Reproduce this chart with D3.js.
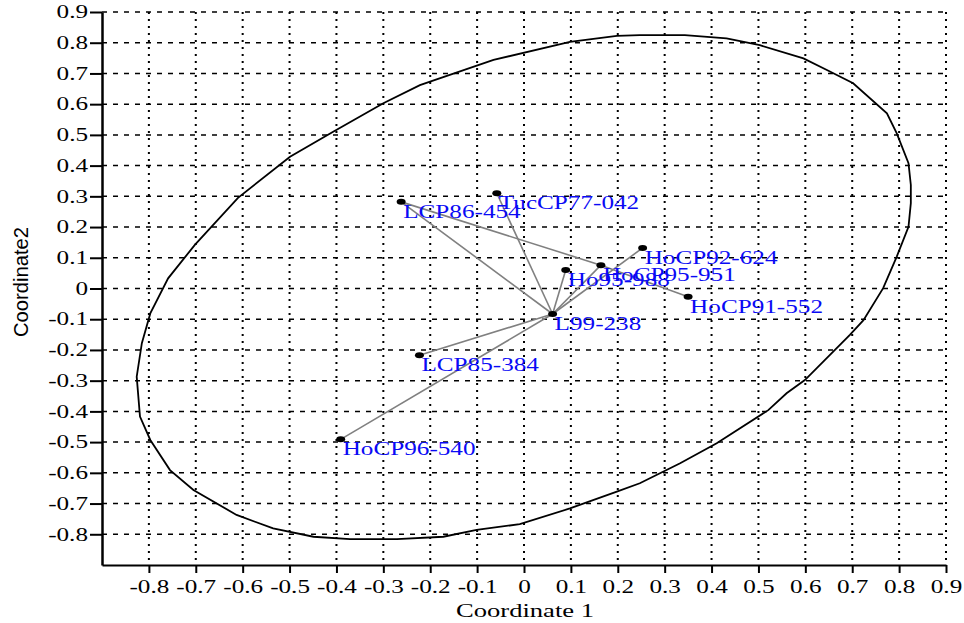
<!DOCTYPE html>
<html>
<head>
<meta charset="utf-8">
<script src="https://cdn.jsdelivr.net/npm/d3@7"></script>
<style>
  html, body { margin: 0; padding: 0; background: #fff; }
</style>
</head>
<body>
<div id="chart"></div>
<script>
// genotypes and their principal coordinates
const genotypes = ["LCP86-454", "TucCP77-042", "Ho95-988", "HoCP95-951", "HoCP92-624",
	"L99-238", "HoCP91-552", "LCP85-384", "HoCP96-540"];
const coord1 = [-0.262, -0.058, 0.089, 0.164, 0.253, 0.061, 0.350, -0.223, -0.391];
const coord2 = [0.282, 0.310, 0.060, 0.076, 0.132, -0.083, -0.027, -0.217, -0.491];

// spanning tree links (from, to)
const linkFrom = ["L99-238", "L99-238", "L99-238", "L99-238", "L99-238", "L99-238", "L99-238", "LCP86-454", "HoCP95-951"];
const linkTo = ["LCP86-454", "TucCP77-042", "Ho95-988", "HoCP95-951", "HoCP92-624", "LCP85-384", "HoCP96-540", "HoCP95-951", "HoCP91-552"];

// outline of the ellipse
const ellipseX = [0.247, 0.343, 0.432, 0.503, 0.596, 0.646, 0.702, 0.774, 0.795, 0.820, 0.825, 0.825,
	0.820, 0.795, 0.766, 0.724, 0.695, 0.599, 0.560, 0.521, 0.411, 0.333, 0.304, 0.247, 0.198, 0.098,
	-0.009, -0.101, -0.172, -0.271, -0.371, -0.449, -0.535, -0.613, -0.705, -0.755, -0.797, -0.819,
	-0.826, -0.815, -0.797, -0.759, -0.702, -0.610, -0.499, -0.407, -0.300, -0.222, -0.065, 0.098, 0.198];
const ellipseY = [0.825, 0.825, 0.814, 0.792, 0.749, 0.711, 0.668, 0.570, 0.505, 0.408, 0.337, 0.278,
	0.201, 0.104, 0.001, -0.103, -0.151, -0.298, -0.341, -0.396, -0.504, -0.569, -0.591, -0.634, -0.661, -0.716,
	-0.767, -0.786, -0.808, -0.816, -0.816, -0.808, -0.781, -0.737, -0.656, -0.591, -0.493, -0.417,
	-0.287, -0.178, -0.081, 0.033, 0.142, 0.295, 0.429, 0.510, 0.603, 0.662, 0.744, 0.803, 0.822];

const xTickValues = [-0.8, -0.7, -0.6, -0.5, -0.4, -0.3, -0.2, -0.1, 0, 0.1, 0.2, 0.3, 0.4, 0.5, 0.6, 0.7, 0.8, 0.9];
const yTickValues = [0.9, 0.8, 0.7, 0.6, 0.5, 0.4, 0.3, 0.2, 0.1, 0, -0.1, -0.2, -0.3, -0.4, -0.5, -0.6, -0.7, -0.8];

const width = 964, height = 623;
const stretch = 1.4; // picture is wider than tall text would suggest
const serif = "'Liberation Serif', 'Times New Roman', serif";

const svg = d3.select("#chart")
	.append("svg")
	.attr("width", width)
	.attr("height", height);

const x = d3.scaleLinear().domain([-0.9, 0.9]).range([102, 946]);
const y = d3.scaleLinear().domain([-0.9, 0.9]).range([565, 12]);

const fmt = d => d === 0 ? "0" : String(+d.toFixed(1));

// grid
svg.append("g").selectAll("line")
	.data(xTickValues)
	.enter().append("line")
	.attr("x1", x).attr("x2", x)
	.attr("y1", y(0.9)).attr("y2", y(-0.9))
	.style("stroke", "#000")
	.style("stroke-width", 2)
	.style("stroke-dasharray", "2,5");

svg.append("g").selectAll("line")
	.data(yTickValues)
	.enter().append("line")
	.attr("x1", x(-0.9)).attr("x2", x(0.9))
	.attr("y1", y).attr("y2", y)
	.style("stroke", "#000")
	.style("stroke-width", 1.5)
	.style("stroke-dasharray", "5,6");

// axes
const xAxis = d3.axisBottom(x).tickValues(xTickValues).tickFormat(fmt).tickSize(8).tickSizeOuter(0);
const gx = svg.append("g")
	.attr("transform", "translate(0," + y(-0.9) + ")")
	.call(xAxis);
gx.select(".domain").style("stroke-width", 2);
gx.selectAll(".tick line").style("stroke-width", 2);
gx.selectAll(".tick text")
	.attr("y", 28).attr("dy", "0")
	.attr("transform", "scale(" + stretch + ",1)")
	.style("font-family", serif)
	.style("font-size", "18px")
	.style("fill", "#000");

const yAxis = d3.axisLeft(y).tickValues(yTickValues).tickFormat(fmt).tickSize(12).tickSizeOuter(0);
const gy = svg.append("g")
	.attr("transform", "translate(" + x(-0.9) + ",0)")
	.call(yAxis);
gy.select(".domain").style("stroke-width", 2.5);
gy.selectAll(".tick line").style("stroke-width", 2);
gy.selectAll(".tick text")
	.attr("x", -14 / stretch)
	.attr("transform", "scale(" + stretch + ",1)")
	.style("font-family", serif)
	.style("font-size", "18px")
	.style("fill", "#000");

// axis titles
svg.append("text")
	.attr("transform", "translate(525,617) scale(" + stretch + ",1)")
	.attr("text-anchor", "middle")
	.style("font-family", serif)
	.style("font-size", "19px")
	.text("Coordinate 1");

svg.append("text")
	.attr("transform", "translate(28,282) rotate(-90) scale(1," + stretch + ")")
	.attr("text-anchor", "middle")
	.attr("textLength", 110)
	.attr("lengthAdjust", "spacingAndGlyphs")
	.style("font-family", "'Liberation Sans', Arial, sans-serif")
	.style("font-size", "15px")
	.text("Coordinate2");

// ellipse
const ring = ellipseX.map((v, i) => [v, ellipseY[i]]);
svg.append("path")
	.attr("d", d3.line().x(d => x(d[0])).y(d => y(d[1])).curve(d3.curveLinearClosed)(ring))
	.style("fill", "none")
	.style("stroke", "#000")
	.style("stroke-width", 1.8);

// tree links
const pos = {};
genotypes.forEach((g, i) => { pos[g] = [coord1[i], coord2[i]]; });
svg.append("g").selectAll("line")
	.data(linkFrom.map((f, i) => [f, linkTo[i]]))
	.enter().append("line")
	.attr("x1", d => x(pos[d[0]][0]))
	.attr("y1", d => y(pos[d[0]][1]))
	.attr("x2", d => x(pos[d[1]][0]))
	.attr("y2", d => y(pos[d[1]][1]))
	.style("stroke", "#808080")
	.style("stroke-width", 1.6);

// points
svg.append("g").selectAll("ellipse")
	.data(genotypes)
	.enter().append("ellipse")
	.attr("cx", (d, i) => x(coord1[i]))
	.attr("cy", (d, i) => y(coord2[i]))
	.attr("rx", 4.5)
	.attr("ry", 3)
	.style("fill", "#000");

// labels
svg.append("g").selectAll("text")
	.data(genotypes)
	.enter().append("text")
	.attr("transform", (d, i) => "translate(" + (x(coord1[i]) + 2) + "," + (y(coord2[i]) + 16) + ") scale(" + stretch + ",1)")
	.style("font-family", serif)
	.style("font-size", "18px")
	.style("fill", "#0a0af5")
	.text(d => d);
</script>
</body>
</html>
